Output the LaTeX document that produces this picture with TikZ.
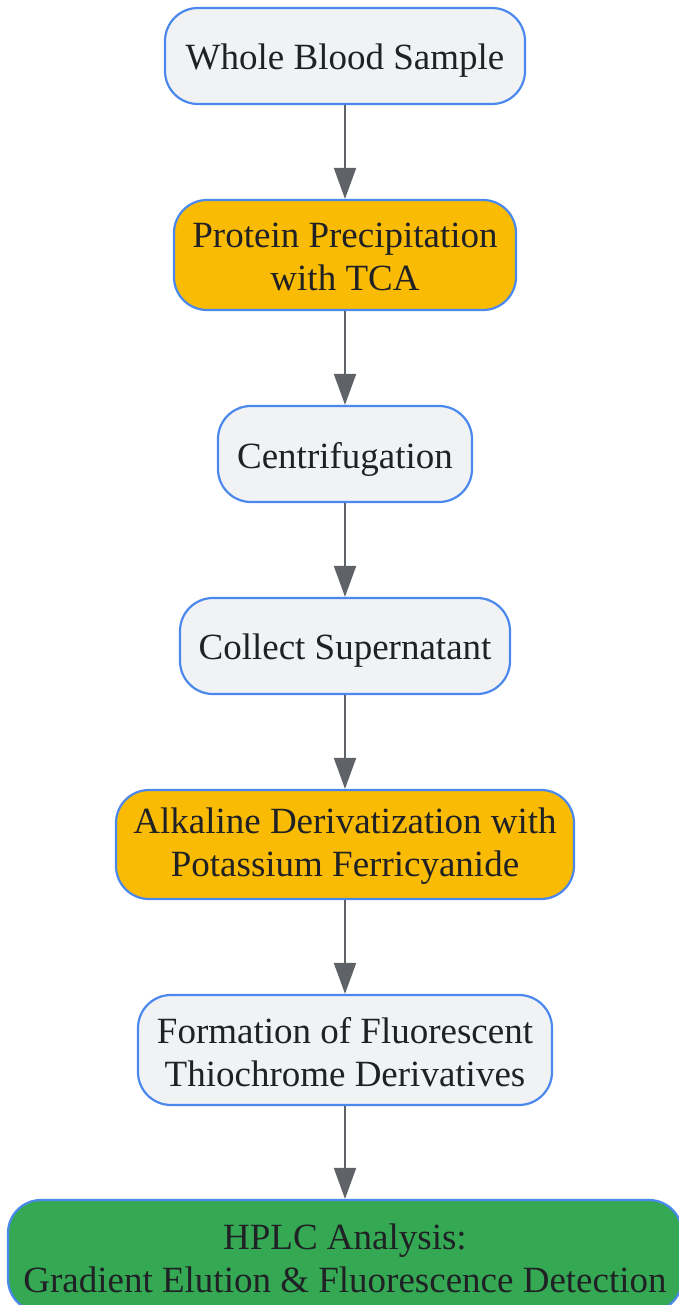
\documentclass[tikz,border=0pt]{standalone}
\usepackage{fontspec}
\setmainfont{Liberation Serif}
\usetikzlibrary{arrows.meta}
\definecolor{boxfill}{HTML}{F1F2F4}
\definecolor{boxline}{HTML}{4A88EE}
\definecolor{yel}{HTML}{FABB05}
\definecolor{grn}{HTML}{34A853}
\definecolor{arrgray}{HTML}{5F6368}
\definecolor{txt}{HTML}{202124}
\tikzset{
  stepbox/.style={draw=boxline, line width=2.2pt, rounded corners=33pt, fill=boxfill,
    inner sep=0pt},
  steptext/.style={align=center, text=txt, inner sep=0pt, yshift=-5pt,
    font=\fontsize{37}{43}\selectfont},
  steptwo/.style={steptext, yshift=3pt},
  yelbox/.style={stepbox, fill=yel},
  grnbox/.style={stepbox, fill=grn},
  arr/.style={draw=arrgray, line width=2pt, -{Triangle[length=31pt,width=22pt]}, arrgray}
}
\begin{document}
\begin{tikzpicture}[x=1pt,y=-1pt]
\useasboundingbox (0,0) rectangle (679,1305);
\node[stepbox, minimum width=360pt, minimum height=96pt,
  label={[steptext]center:Whole Blood Sample}] (n1) at (345,56) {};
\node[yelbox, minimum width=342pt, minimum height=110pt,
  label={[steptwo]center:{Protein Precipitation\\with TCA}}] (n2) at (345,255) {};
\node[stepbox, minimum width=254pt, minimum height=96pt,
  label={[steptext]center:Centrifugation}] (n3) at (345,454) {};
\node[stepbox, minimum width=330pt, minimum height=96pt,
  label={[steptext]center:Collect Supernatant}] (n4) at (345,646) {};
\node[yelbox, minimum width=458pt, minimum height=109pt,
  label={[steptwo]center:{Alkaline Derivatization with\\Potassium Ferricyanide}}] (n5) at (345,844.5) {};
\node[stepbox, minimum width=414pt, minimum height=110pt,
  label={[steptwo]center:{Formation of Fluorescent\\Thiochrome Derivatives}}] (n6) at (345,1050) {};
\node[grnbox, minimum width=674pt, minimum height=112pt,
  label={[steptwo]center:{HPLC Analysis:\\Gradient Elution \& Fluorescence Detection}}] (n7) at (345,1256) {};
\draw[arr] (n1) -- (n2);
\draw[arr] (n2) -- (n3);
\draw[arr] (n3) -- (n4);
\draw[arr] (n4) -- (n5);
\draw[arr] (n5) -- (n6);
\draw[arr] (n6) -- (n7);
\end{tikzpicture}
\end{document}
